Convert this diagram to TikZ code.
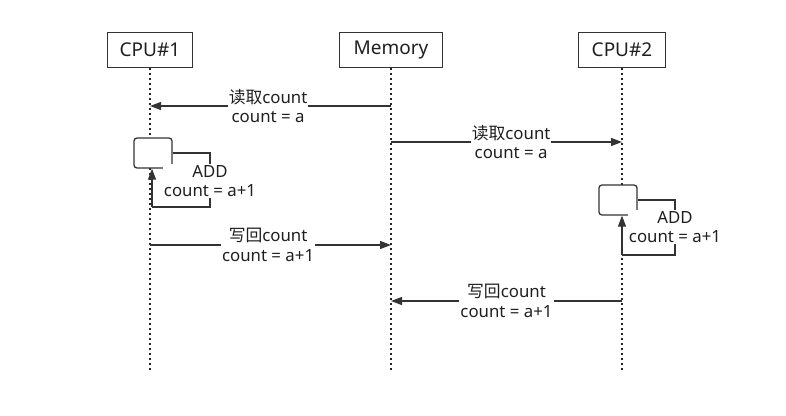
\documentclass[tikz,border=0pt]{standalone}
\usepackage{fontspec}
\setmainfont{Noto Sans}
\newfontfamily\cjk{Noto Sans CJK SC}
\usetikzlibrary{arrows.meta}
\begin{document}
\begin{tikzpicture}[x=1pt,y=-1pt,
  head/.style={draw=black!80, line width=1.2pt, fill=white, minimum width=85pt, minimum height=35pt, inner sep=0pt, font=\fontsize{19}{21}\selectfont, text=black!88},
  life/.style={draw=black!85, line width=1.6pt, dash pattern=on 1.6pt off 3.4pt},
  msg/.style={draw=black!80, line width=1.2pt, -{Triangle[length=11pt,width=8pt]}},
  loopline/.style={draw=black!80, line width=1.2pt},
  lbl/.style={fill=white, align=center, font=\fontsize{16.8}{19.5}\selectfont, inner sep=1pt, text=black!88},
  act/.style={draw=black!80, line width=1.3pt, rounded corners=3pt, fill=white, minimum width=38pt, minimum height=30pt, inner sep=0pt}]
\useasboundingbox (0,0) rectangle (786,415);
\node[head] (cpu1) at (150,50) {CPU\#1};
\node[head, minimum width=103pt] (mem) at (391,50) {Memory};
\node[head, minimum width=87pt] (cpu2) at (622,50) {CPU\#2};
\coordinate (e1) at (150,370);
\coordinate (e2) at (391,370);
\coordinate (e3) at (622,370);
\draw[life] (cpu1.south) -- (e1);
\draw[life] (mem.south) -- (e2);
\draw[life] (cpu2.south) -- (e3);
% read 1
\coordinate (r1a) at (391,106);
\coordinate (r1b) at (150,106);
\draw[msg] (r1a) -- (r1b) node[lbl, pos=0.51] {{\cjk 读取}count\\count = a};
% read 2
\coordinate (r2a) at (391,142);
\coordinate (r2b) at (622,142);
\draw[msg] (r2a) -- (r2b) node[lbl, pos=0.52] {{\cjk 读取}count\\count = a};
% self-call 1
\node[act] (act1) at (153,153) {};
\coordinate (k1) at (210,153);
\coordinate (k1b) at (210,207);
\coordinate (k1c) at (152,207);
\draw[loopline] (act1.east) -- (k1) -- (k1b) -- (k1c);
\draw[msg] (k1c) -- (k1c |- act1.south);
\node[lbl] (l1) at (210,181) {ADD\\count = a+1};
% self-call 2
\node[act] (act2) at (618,200) {};
\coordinate (k2) at (675,200);
\coordinate (k2b) at (675,255);
\coordinate (k2c) at (622,255);
\draw[loopline] (act2.east) -- (k2) -- (k2b) -- (k2c);
\draw[msg] (k2c) -- (k2c |- act2.south);
\node[lbl] (l2) at (675,227) {ADD\\count = a+1};
% write 1
\coordinate (w1a) at (150,245);
\coordinate (w1b) at (391,245);
\draw[msg] (w1a) -- (w1b) node[lbl, pos=0.49] {{\cjk 写回}count\\count = a+1};
% write 2
\coordinate (w2a) at (622,301);
\coordinate (w2b) at (391,301);
\draw[msg] (w2a) -- (w2b) node[lbl, pos=0.5] {{\cjk 写回}count\\count = a+1};
\end{tikzpicture}
\end{document}
